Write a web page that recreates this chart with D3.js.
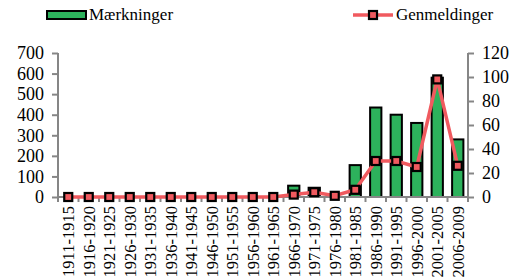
<!DOCTYPE html>
<html>
<head>
<meta charset="utf-8">
<script src="https://cdn.jsdelivr.net/npm/d3@7"></script>
<style>
  body { margin: 0; background: #fff; }
</style>
</head>
<body>
<script>
var categories = ["1911-1915","1916-1920","1921-1925","1926-1930","1931-1935","1936-1940",
  "1941-1945","1946-1950","1951-1955","1956-1960","1961-1965","1966-1970","1971-1975",
  "1976-1980","1981-1985","1986-1990","1991-1995","1996-2000","2001-2005","2006-2009"];
var maerkninger = [0,0,0,0,0,0,0,0,0,0,0,55,45,0,155,435,400,360,580,280];
var genmeldinger = [0,0,0,0,0,0,0,0,0,0,0,2,4,1,6,30,30,25,98,26];
var leftTicks = [0,100,200,300,400,500,600,700];
var rightTicks = [0,20,40,60,80,100,120];

var width = 521, height = 279;
var x0 = 58, x1 = 468, yTop = 53, yBot = 197;
var serif = "Liberation Serif";

var svg = d3.select("body").append("svg")
  .attr("width", width)
  .attr("height", height)
  .attr("font-family", serif);

var x = d3.scaleBand().domain(categories).range([x0, x1]).paddingInner(0.45).paddingOuter(0.225);
var yL = d3.scaleLinear().domain([0, 700]).range([yBot, yTop]);
var yR = d3.scaleLinear().domain([0, 120]).range([yBot, yTop]);

var axisColor = "#868686";
var green = "#2db25c", red = "#f05a5f";

// bars
svg.selectAll(".bar")
    .data(maerkninger)
  .enter().append("rect")
    .attr("class", "bar")
    .attr("x", function(d,i) { return x(categories[i]); })
    .attr("width", x.bandwidth())
    .attr("y", function(d) { return yL(d); })
    .attr("height", function(d) { return yBot - yL(d); })
    .attr("fill", green)
    .attr("stroke", "#000")
    .attr("stroke-width", 2)
    .attr("display", function(d) { return d > 0 ? null : "none"; });

// left axis
var gl = svg.append("g").attr("transform", "translate(" + x0 + ",0)")
  .call(d3.axisLeft(yL).tickValues(leftTicks).tickSize(6).tickPadding(8));
// right axis
var gr = svg.append("g").attr("transform", "translate(" + x1 + ",0)")
  .call(d3.axisRight(yR).tickValues(rightTicks).tickSize(6).tickPadding(8));
// x axis with ticks at category boundaries
var gx = svg.append("g").attr("transform", "translate(0," + yBot + ")")
  .call(d3.axisBottom(x).tickSize(0));
var step = x.step();
gx.selectAll(".bound")
    .data(d3.range(categories.length + 1))
  .enter().append("line")
    .attr("x1", function(i) { return x0 + i * step; })
    .attr("x2", function(i) { return x0 + i * step; })
    .attr("y1", 0).attr("y2", 5)
    .attr("stroke", axisColor).attr("stroke-width", 2);

[gl, gr, gx].forEach(function(g) {
  g.attr("font-family", serif).attr("font-size", 18);
  g.select(".domain").attr("stroke", axisColor).attr("stroke-width", 2);
  g.selectAll(".tick line").attr("stroke", axisColor).attr("stroke-width", 2);
  g.selectAll("text").attr("fill", "#000").attr("font-family", serif).attr("font-size", 18);
});
gl.select(".domain").attr("d", "M0," + yTop + "V" + yBot);
gr.select(".domain").attr("d", "M0," + yTop + "V" + yBot);
gx.select(".domain").attr("d", "M" + x0 + ",0H" + x1);

gx.selectAll(".tick text")
    .attr("transform", "rotate(-90)")
    .attr("x", -9).attr("y", 0).attr("dy", "0.35em")
    .attr("text-anchor", "end")
    .attr("font-size", 16.5);

// line
var line = d3.line()
  .x(function(d,i) { return x(categories[i]) + x.bandwidth()/2; })
  .y(function(d) { return yR(d); });

svg.append("path")
  .datum(genmeldinger)
  .attr("d", line)
  .attr("fill", "none")
  .attr("stroke", red)
  .attr("stroke-width", 3.5);

svg.selectAll(".marker")
    .data(genmeldinger)
  .enter().append("rect")
    .attr("class", "marker")
    .attr("x", function(d,i) { return x(categories[i]) + x.bandwidth()/2 - 4; })
    .attr("y", function(d) { return yR(d) - 4; })
    .attr("width", 8).attr("height", 8)
    .attr("fill", red)
    .attr("stroke", "#000")
    .attr("stroke-width", 2.2);

// legend
var lg = svg.append("g").attr("font-family", serif).attr("font-size", 17);
lg.append("rect").attr("x", 47).attr("y", 11).attr("width", 39).attr("height", 8)
  .attr("fill", green).attr("stroke", "#000").attr("stroke-width", 2);
lg.append("text").attr("x", 89).attr("y", 20).text("Mærkninger");
lg.append("line").attr("x1", 353).attr("x2", 393).attr("y1", 15).attr("y2", 15)
  .attr("stroke", red).attr("stroke-width", 3.5);
lg.append("rect").attr("x", 369).attr("y", 11).attr("width", 8).attr("height", 8)
  .attr("fill", red).attr("stroke", "#000").attr("stroke-width", 2.2);
lg.append("text").attr("x", 396).attr("y", 20).text("Genmeldinger");
</script>
</body>
</html>
